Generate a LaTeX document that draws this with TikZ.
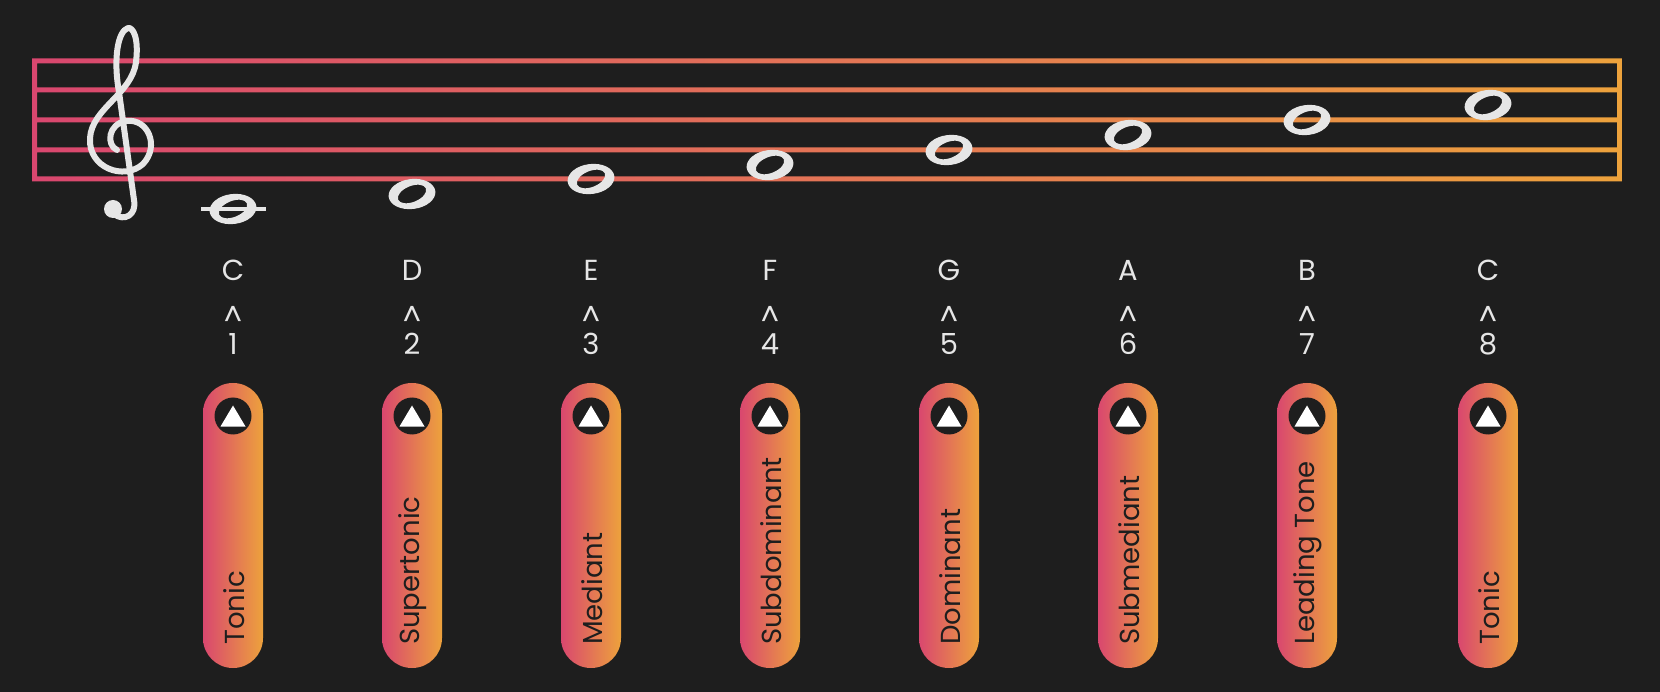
\documentclass[tikz,border=0pt]{standalone}
\usepackage{fontspec}
\setmainfont{Poppins}
\definecolor{bgc}{HTML}{1E1E1E}
\definecolor{pinkc}{HTML}{D9476F}
\definecolor{orangec}{HTML}{EDA23C}
\definecolor{txtc}{HTML}{E6E6E6}
\definecolor{darkc}{HTML}{1E1E1E}
\begin{document}
\begin{tikzpicture}[x=1pt,y=-1pt,
  lbl/.style={text=txtc,font=\fontsize{29}{29}\selectfont,inner sep=0pt},
  pilltext/.style={text=darkc,font=\fontsize{27.5}{27.5}\selectfont,rotate=90,anchor=west,inner sep=0pt},
  notehead/.style={fill=txtc,even odd rule},
  clefline/.style={draw=txtc,line width=6pt,line cap=round,line join=round}]
\useasboundingbox[fill=bgc] (0,0) rectangle (1660,692);
% staff
\shade[left color=pinkc,right color=orangec,even odd rule]
  (32,58.5) rectangle (1622,181.5)
  (37,63.5) rectangle (1617,87.5)
  (37,92.5) rectangle (1617,117.5)
  (37,122.5) rectangle (1617,147.5)
  (37,152.5) rectangle (1617,176.5);
% treble clef drawn as a shape
\draw[clefline] (117,150) .. controls (106,145) and (108,124) .. (126,121)
  .. controls (148,118) and (160,146) .. (143,164)
  .. controls (124,181) and (88,168) .. (90,138)
  .. controls (92,108) and (132,94) .. (136,62)
  .. controls (139,38) and (133,27) .. (128,28)
  .. controls (118,31) and (113,58) .. (119,92)
  -- (134,200) .. controls (137,215) and (124,222) .. (114,214);
\fill[txtc] (113,209) circle (9pt);
% ledger line
\fill[txtc] (201,207) rectangle (266,211.5);
\foreach \i/\x/\y/\L/\n/\nm in {1/233/209/C/1/Tonic,2/412/194/D/2/Supertonic,3/591/179/E/3/Mediant,4/770/165/F/4/Subdominant,5/949/150/G/5/Dominant,6/1128/135/A/6/Submediant,7/1307/120/B/7/Leading Tone,8/1488/105/C/8/Tonic}{
  \coordinate (n\i) at (\x,\y);
  \fill[notehead] (n\i) ellipse[x radius=23.5pt,y radius=15pt,rotate=7]
     (n\i) ellipse[x radius=15pt,y radius=8pt,rotate=22];
  \node[lbl] (l\i) at (\x,270) {\L};
  \node[lbl] (c\i) at (\x,316) {\textasciicircum};
  \node[lbl] (d\i) at (\x,344) {\n};
  \shade[left color=pinkc,right color=orangec,rounded corners=29.9pt] (\x-30,383) rectangle (\x+30,668);
  \fill[darkc] (\x,416) circle (18.5pt);
  \fill[white] (\x,405.5) -- (\x+12.5,426.5) -- (\x-12.5,426.5) -- cycle;
  \node[pilltext] (p\i) at (\x+1,645) {\nm};
}
\end{tikzpicture}
\end{document}
